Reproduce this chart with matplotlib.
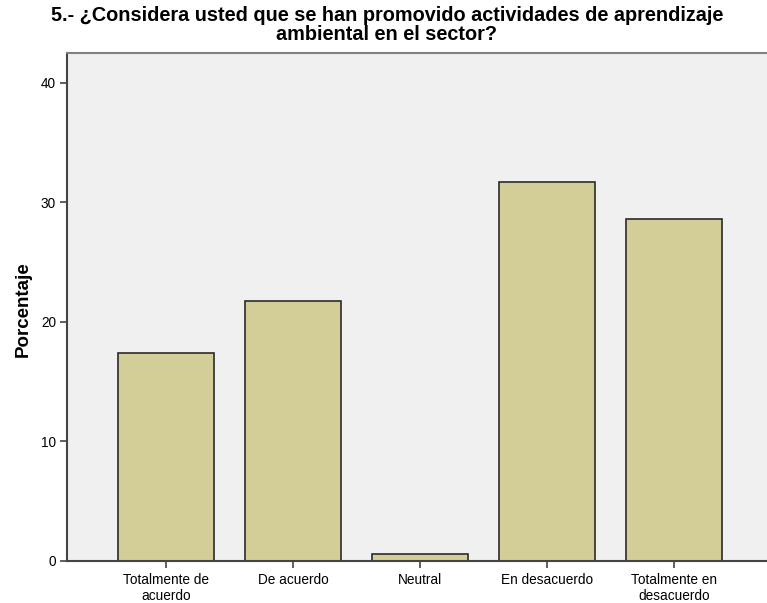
import matplotlib
matplotlib.use("Agg")
import matplotlib.pyplot as plt
import numpy as np

categories = ["Totalmente de\nacuerdo", "De acuerdo", "Neutral", "En desacuerdo", "Totalmente en\ndesacuerdo"]
percentages = [17.4, 21.7, 0.6, 31.7, 28.6]
yticks = [0, 10, 20, 30, 40]
title_lines = ["5.- ¿Considera usted que se han promovido actividades de aprendizaje",
               "ambiental en el sector?"]
ylabel = "Porcentaje"

plt.rcParams['font.family'] = ['Liberation Sans', 'DejaVu Sans']

fig = plt.figure(figsize=(7.67, 6.03), dpi=100)
W, H = 767, 603
x0, x1, ytop, ybot = 67, 767, 53, 560.7
ax = fig.add_axes([x0 / W, (H - ybot) / H, (x1 - x0) / W, (ybot - ytop) / H])
ax.set_facecolor('#F0F0F0')

x = np.arange(len(categories))
ax.bar(x, percentages, width=0.756, color='#D3CE97', edgecolor='#2b2b2b', linewidth=1.2, zorder=2)

ax.set_xlim(-0.78, 4.73)
ax.set_ylim(0, 42.5)
ax.set_yticks(yticks)
ax.set_xticks(x)
ax.set_xticklabels(categories, fontsize=9.8, linespacing=1.2)
ax.tick_params(axis='both', direction='out', length=5, width=1.2, color='#444444', labelsize=9.8, pad=3)
ax.tick_params(axis='x', pad=4)

for s in ['left', 'bottom']:
    ax.spines[s].set_color('#444444')
    ax.spines[s].set_linewidth(1.5)
ax.spines['top'].set_color('#808080')
ax.spines['top'].set_linewidth(1.5)
ax.spines['right'].set_visible(False)

fig.text(23 / W, 1 - 309 / H, ylabel, rotation=90, ha='center', va='center',
         fontsize=13.5, fontweight='bold')

fig.text(387 / W, 1 - 15.5 / H, title_lines[0], ha='center', va='center', fontsize=14.3,
         fontweight='bold')
fig.text(387 / W, 1 - 34 / H, title_lines[1], ha='center', va='center', fontsize=14.3,
         fontweight='bold')

fig.savefig('out.png', dpi=100, facecolor='white')
